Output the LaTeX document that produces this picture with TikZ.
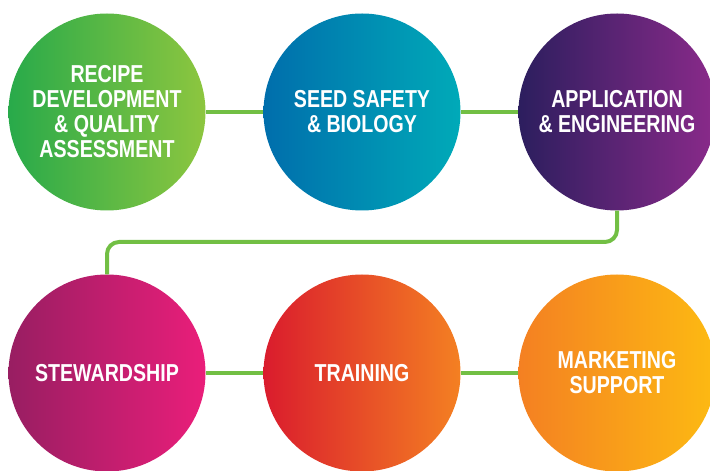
\documentclass[tikz,border=0pt]{standalone}
\usepackage{fontspec}
\setmainfont[FakeStretch=0.8]{Liberation Sans}
\usepackage{tikz}
\usetikzlibrary{positioning}
\definecolor{greenL}{RGB}{40, 170, 74}
\definecolor{greenR}{RGB}{141, 198, 63}
\definecolor{blueL}{RGB}{0, 110, 172}
\definecolor{blueR}{RGB}{0, 170, 184}
\definecolor{purpleL}{RGB}{44, 30, 94}
\definecolor{purpleR}{RGB}{138, 42, 138}
\definecolor{pinkL}{RGB}{152, 30, 98}
\definecolor{pinkR}{RGB}{234, 30, 122}
\definecolor{redL}{RGB}{218, 28, 45}
\definecolor{redR}{RGB}{244, 128, 34}
\definecolor{orangeL}{RGB}{244, 128, 34}
\definecolor{orangeR}{RGB}{253, 186, 18}
\definecolor{link}{RGB}{114, 191, 68}

\tikzset{
  topic/.style={circle, minimum size=197pt, inner sep=0pt, align=center,
                text=white, font=\bfseries\fontsize{24.5}{25}\selectfont},
  link/.style={draw=link, line width=4pt}
}

\begin{document}
\begin{tikzpicture}[x=1pt, y=1pt]
  \useasboundingbox (0, 0) rectangle (710, 471);
  \clip (0, 0) rectangle (710, 471);

  % top row
  \node[topic, left color=greenL, right color=greenR] (recipe) at (107, 359)
    {RECIPE\\DEVELOPMENT\\\& QUALITY\\ASSESSMENT};
  \node[topic, left color=blueL, right color=blueR] (seed) at (362, 359)
    {SEED SAFETY\\\& BIOLOGY};
  \node[topic, left color=purpleL, right color=purpleR] (appl) at (617, 359)
    {APPLICATION\\\& ENGINEERING};

  % bottom row
  \node[topic, left color=pinkL, right color=pinkR] (steward) at (107, 98)
    {STEWARDSHIP};
  \node[topic, left color=redL, right color=redR] (train) at (362, 98)
    {TRAINING};
  \node[topic, left color=orangeL, right color=orangeR] (market) at (617, 98)
    {MARKETING\\SUPPORT};

  \coordinate (turn) at (362, 229);

  \draw[link] (recipe) -- (seed);
  \draw[link] (seed) -- (appl);
  \draw[link, rounded corners=12pt] (appl.south) -- (appl.south |- turn)
                                    -- (steward.north |- turn) -- (steward.north);
  \draw[link] (steward) -- (train);
  \draw[link] (train) -- (market);
\end{tikzpicture}
\end{document}
